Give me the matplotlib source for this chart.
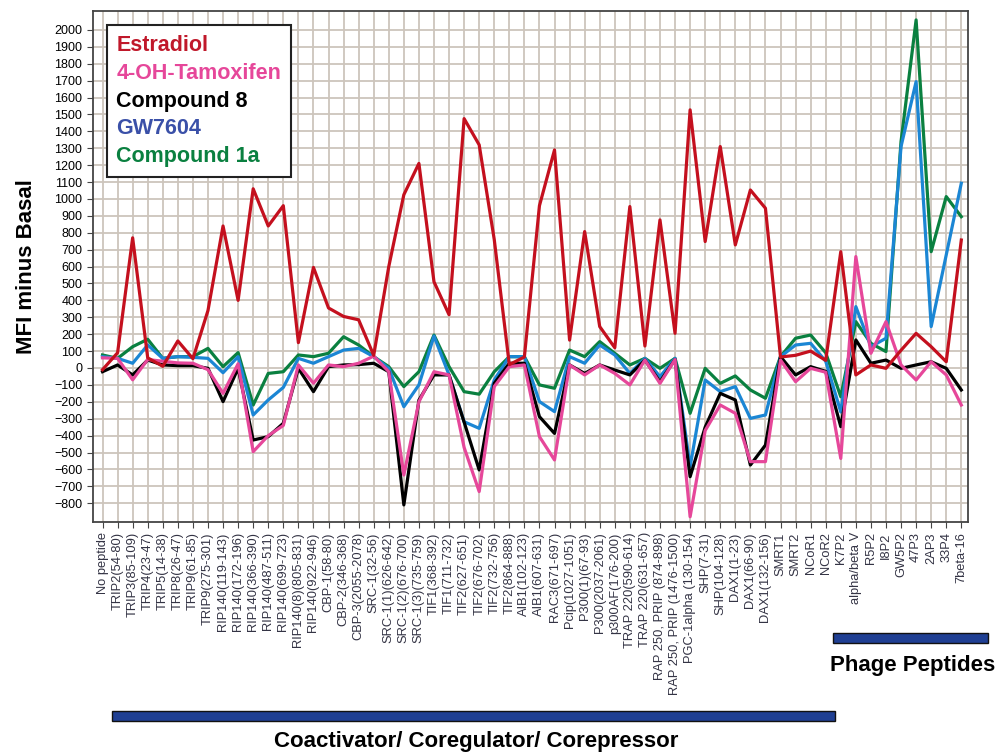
import matplotlib.pyplot as plt
from matplotlib.patches import Rectangle
from matplotlib.lines import Line2D

plt.rcParams['font.family'] = ['Liberation Sans', 'DejaVu Sans']

# -----------------------------
# Data
# -----------------------------
peptides = [
    "No peptide", "TRIP2(54-80)", "TRIP3(85-109)", "TRIP4(23-47)", "TRIP5(14-38)",
    "TRIP8(26-47)", "TRIP9(61-85)", "TRIP9(275-301)", "RIP140(119-143)",
    "RIP140(172-196)", "RIP140(366-390)", "RIP140(487-511)", "RIP140(699-723)",
    "RIP140(8)(805-831)", "RIP140(922-946)", "CBP-1(58-80)", "CBP-2(346-368)",
    "CBP-3(2055-2078)", "SRC-1(32-56)", "SRC-1(1)(626-642)", "SRC-1(2)(676-700)",
    "SRC-1(3)(735-759)", "TIF1(368-392)", "TIF1(711-732)", "TIF2(627-651)",
    "TIF2(676-702)", "TIF2(732-756)", "TIF2(864-888)", "AIB1(102-123)",
    "AIB1(607-631)", "RAC3(671-697)", "Pcip(1027-1051)", "P300(1)(67-93)",
    "P300(2037-2061)", "p300AF(176-200)", "TRAP 220(590-614)", "TRAP 220(631-657)",
    "RAP 250, PRIP (874-898)", "RAP 250, PRIP (1476-1500)", "PGC-1alpha (130-154)",
    "SHP(7-31)", "SHP(104-128)", "DAX1(1-23)", "DAX1(66-90)", "DAX1(132-156)",
    "SMRT1", "SMRT2", "NCoR1", "NCoR2", "K7P2", "alpha/beta V", "R5P2", "I8P2",
    "GW5P2", "47P3", "2AP3", "33P4", "7beta-16",
]

estradiol = [
    -10, 90, 770, 60, 10, 160, 55, 340, 840, 400, 1060, 840, 960, 150, 595,
    355, 305, 285, 75, 600, 1025, 1210, 510, 315, 1475, 1320, 760, 20, 65,
    960, 1290, 165, 807, 245, 120, 955, 130, 876, 205, 1527, 748, 1310, 728,
    1053, 945, 65, 75, 100, 45, 688, -41, 18, -2, 105, 205, 126, 37, 757,
]
tamoxifen = [
    60, 57, -70, 50, 40, 30, 28, -10, -150, 25, -495, -400, -340, 18, -90,
    18, 8, 28, 70, -22, -633, -200, -22, -41, -470, -731, -110, 8, 18,
    -406, -544, 18, -41, 18, -32, -100, 47, -91, 50, -880, -370, -219, -268,
    -554, -554, 47, -81, -2, -25, -535, 659, 87, 274, 18, -71, 37, -41, -219,
]
compound8 = [
    -22, 18, -41, 47, 18, 14, 14, -2, -199, -2, -426, -406, -327, -2, -140,
    8, 18, 20, 28, -22, -810, -190, -41, -41, -320, -603, -91, 28, 28,
    -288, -387, 18, -32, 18, -12, -41, 47, -81, 50, -643, -350, -150, -189,
    -574, -456, 67, -41, 8, -20, -347, 166, 28, 47, -2, 18, 37, -2, -130,
]
gw7604 = [
    67, 57, 28, 136, 57, 67, 63, 57, -28, 67, -278, -189, -115, 57, 28,
    67, 106, 116, 67, -2, -229, -100, 189, -41, -318, -357, -71, 67, 67,
    -199, -258, 67, 28, 136, 77, -32, 57, -51, 57, -584, -71, -140, -110,
    -298, -278, 67, 136, 146, 40, -260, 363, 126, 176, 1310, 1694, 245, 669, 1093,
]
compound1a = [
    77, 57, 126, 170, 57, 67, 67, 116, 8, 91, -219, -32, -22, 77, 67,
    87, 185, 136, 67, 8, -110, -22, 195, 8, -140, -155, -22, 67, 67,
    -100, -120, 106, 67, 156, 87, 18, 57, -2, 57, -268, -2, -91, -47,
    -130, -179, 67, 176, 195, 90, -170, 274, 146, 97, 1340, 2059, 688, 1014, 895,
]

series = [
    ("Estradiol", estradiol, "#c4101e", "#c0182a"),
    ("4-OH-Tamoxifen", tamoxifen, "#e6479a", "#e6479a"),
    ("Compound 8", compound8, "#000000", "#000000"),
    ("GW7604", gw7604, "#1b86d4", "#3a50a8"),
    ("Compound 1a", compound1a, "#0a8040", "#0a8040"),
]
draw_order = [4, 3, 2, 1, 0]

# -----------------------------
# Plot
# -----------------------------
fig = plt.figure(figsize=(9.97, 7.53), dpi=100)
ax = fig.add_axes([0.093, 0.307, 0.878, 0.678])

x = list(range(len(peptides)))
for k in draw_order:
    name, vals, col, _ = series[k]
    ax.plot(x, vals, color=col, linewidth=2.3, zorder=3)

ax.set_xlim(-0.65, len(peptides) - 0.55)
ax.set_ylim(-910, 2110)
ax.set_yticks(range(-800, 2001, 100))
ax.set_xticks(x)
ax.set_xticklabels(peptides, rotation=90, fontsize=9.3, color="#333344")
ax.tick_params(axis="y", labelsize=9, direction="out", length=4, color="#444444")
ax.tick_params(axis="x", direction="out", length=4, color="#444444")
ax.grid(True, color="#cdc5bc", linewidth=1.3, zorder=0)
ax.set_axisbelow(True)
for s in ax.spines.values():
    s.set_color("#444444")
    s.set_linewidth(1.3)

ax.set_ylabel("MFI minus Basal", fontsize=16, fontweight="bold", labelpad=12)

handles = [Line2D([], [], color="none") for _ in series]
leg = ax.legend(handles, [s[0] for s in series], loc="upper left",
                bbox_to_anchor=(0.016, 0.973), borderaxespad=0,
                handlelength=0, handletextpad=0, fancybox=False,
                labelcolor=[s[3] for s in series], labelspacing=0.32,
                borderpad=0.45,
                prop={"weight": "bold", "size": 15.5})
leg.get_frame().set_edgecolor("#222222")
leg.get_frame().set_linewidth(1.5)
leg.get_frame().set_alpha(1)

# group bars under the axis
fig.patches.append(Rectangle((112 / 997, 1 - 721 / 753), 723 / 997, 10 / 753,
                             transform=fig.transFigure, facecolor="#1f3f93",
                             edgecolor="#111111", linewidth=1))
fig.patches.append(Rectangle((833 / 997, 1 - 643 / 753), 155 / 997, 10 / 753,
                             transform=fig.transFigure, facecolor="#1f3f93",
                             edgecolor="#111111", linewidth=1))
fig.text(476 / 997, 1 - 742 / 753, "Coactivator/ Coregulator/ Corepressor",
         ha="center", va="center", fontsize=16, fontweight="bold")
fig.text(913 / 997, 1 - 666 / 753, "Phage Peptides",
         ha="center", va="center", fontsize=16, fontweight="bold")

plt.savefig("out.png", dpi=100)
plt.close()
